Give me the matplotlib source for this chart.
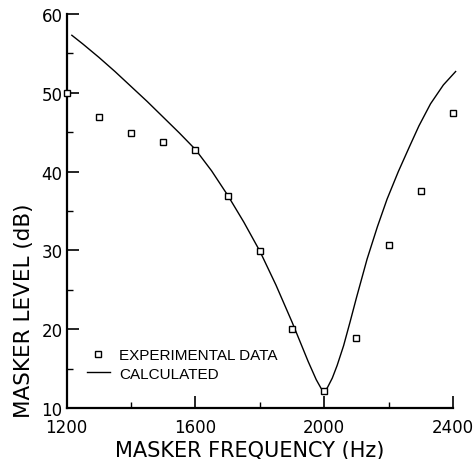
import matplotlib
matplotlib.use("Agg")
import matplotlib.pyplot as plt
from matplotlib.lines import Line2D

# Experimental data (squares)
exp_freq = [1200, 1300, 1400, 1500, 1600, 1700, 1800, 1900, 2000, 2100, 2200, 2300, 2400]
exp_level = [50.0, 46.9, 44.9, 43.8, 42.8, 36.9, 29.9, 20.0, 12.2, 18.9, 30.7, 37.5, 47.4]

# Calculated curve
calc_freq = [1216, 1250, 1300, 1350, 1400, 1450, 1500, 1550, 1600, 1650, 1700, 1750,
             1800, 1850, 1900, 1925, 1950, 1975, 1990, 2000, 2010, 2025, 2040, 2060,
             2080, 2100, 2133, 2165, 2195, 2230, 2265, 2294, 2330, 2370, 2408]
calc_level = [57.3, 56.2, 54.5, 52.7, 50.8, 48.9, 46.9, 44.9, 42.8, 40.1, 37.0, 33.6,
              29.9, 25.6, 20.9, 18.4, 15.9, 13.6, 12.5, 12.1, 12.6, 13.8, 15.4, 17.9,
              20.9, 24.0, 28.9, 33.0, 36.5, 40.0, 43.2, 45.8, 48.6, 51.0, 52.7]

x_ticks = [1200, 1600, 2000, 2400]
x_minor = [1400, 1800, 2200]
y_ticks = [10, 20, 30, 40, 50, 60]
y_minor = [15, 25, 35, 45, 55]

plt.rcParams['font.family'] = ['DejaVu Sans']

fig = plt.figure(figsize=(4.77, 4.60), dpi=100)
ax = fig.add_axes([0.1398, 0.1109, 0.8100, 0.8565])

ax.plot(calc_freq, calc_level, color='black', lw=1.0, clip_on=False,
        solid_joinstyle='round')
ax.plot(exp_freq, exp_level, linestyle='none', marker='s', markersize=4.3,
        markerfacecolor='white', markeredgecolor='black', markeredgewidth=1.0,
        clip_on=False, zorder=5)

ax.set_xlim(1200, 2400)
ax.set_ylim(10, 60)
ax.set_xticks(x_ticks)
ax.set_xticks(x_minor, minor=True)
ax.set_yticks(y_ticks)
ax.set_yticks(y_minor, minor=True)
ax.tick_params(axis='both', which='major', direction='in', length=8.5, width=1.2,
               labelsize=12, colors='black')
ax.tick_params(axis='both', which='minor', direction='in', length=4.5, width=1.0)
ax.tick_params(axis='x', pad=7)
ax.tick_params(axis='y', pad=3)

for s in ['top', 'right']:
    ax.spines[s].set_visible(False)
for s in ['left', 'bottom']:
    ax.spines[s].set_linewidth(1.6)

ax.set_xlabel('MASKER FREQUENCY (Hz)', fontsize=15)
ax.set_ylabel('MASKER LEVEL (dB)', fontsize=15.5)
ax.xaxis.set_label_coords(0.474, -0.081, transform=ax.transAxes)
ax.yaxis.set_label_coords(-0.085, 0.25, transform=ax.transAxes)

handles = [
    Line2D([], [], linestyle='none', marker='s', markersize=5, markerfacecolor='white',
           markeredgecolor='black', markeredgewidth=1.0),
    Line2D([], [], color='black', lw=1.0),
]
ax.legend(handles, ['EXPERIMENTAL DATA', 'CALCULATED'], frameon=False,
          loc='upper left', bbox_to_anchor=(87 / 477, 1 - 349 / 460),
          bbox_transform=fig.transFigure, handlelength=1.5,
          handletextpad=0.6, labelspacing=0.3, borderaxespad=0, borderpad=0,
          prop={'family': 'Liberation Sans', 'size': 11})

fig.savefig('out.png', dpi=100)
